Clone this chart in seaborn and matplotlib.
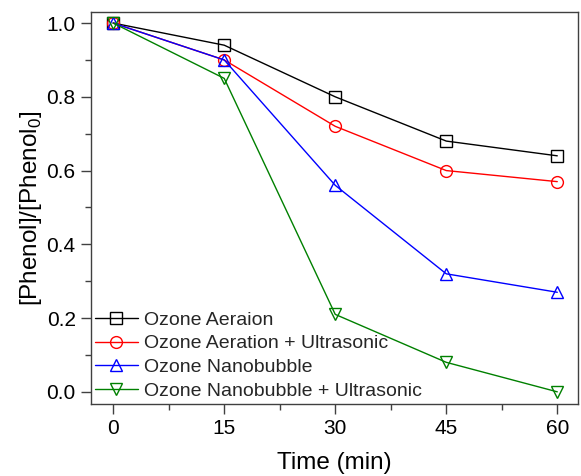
import matplotlib
matplotlib.use("Agg")
import matplotlib.pyplot as plt
import seaborn as sns
import pandas as pd
from matplotlib.ticker import MultipleLocator, AutoMinorLocator

time_min = [0, 15, 30, 45, 60]
series_names = ["Ozone Aeraion", "Ozone Aeration + Ultrasonic",
                "Ozone Nanobubble", "Ozone Nanobubble + Ultrasonic"]
aeration = [1.0, 0.94, 0.80, 0.68, 0.64]
aeration_us = [1.0, 0.90, 0.72, 0.60, 0.57]
nanobubble = [1.0, 0.90, 0.56, 0.32, 0.27]
nanobubble_us = [1.0, 0.85, 0.21, 0.08, 0.0]
values = [aeration, aeration_us, nanobubble, nanobubble_us]
colors = ["black", "red", "blue", "green"]
markers = ["s", "o", "^", "v"]

sns.set_theme(style="white")
plt.rcParams['font.family'] = ['Liberation Sans', 'DejaVu Sans']

fig = plt.figure(figsize=(5.81, 4.76), dpi=100)
ax = fig.add_axes([91/581, 1-404/476, (578-91)/581, (404-12)/476])

for name, vals, c, m in zip(series_names, values, colors, markers):
    df = pd.DataFrame({"t": time_min, "v": vals})
    sns.lineplot(data=df, x="t", y="v", ax=ax, color=c, marker=m,
                 markersize=8.5, markerfacecolor="none", markeredgecolor=c,
                 markeredgewidth=1.0, linewidth=1.0, label=name)

ax.set_xlim(-3, 62.8)
ax.set_ylim(-0.033, 1.03)
ax.xaxis.set_major_locator(MultipleLocator(15))
ax.xaxis.set_minor_locator(AutoMinorLocator(2))
ax.yaxis.set_major_locator(MultipleLocator(0.2))
ax.yaxis.set_minor_locator(AutoMinorLocator(2))
ax.yaxis.set_major_formatter(matplotlib.ticker.FormatStrFormatter('%.1f'))
ax.tick_params(axis='both', which='major', direction='out', length=7, width=1,
               color='#404040', labelsize=15, bottom=True, left=True, pad=4,
               labelcolor='black')
ax.tick_params(axis='both', which='minor', direction='out', length=4, width=1,
               color='#404040', bottom=True, left=True)
for s in ax.spines.values():
    s.set_color('#404040')
    s.set_linewidth(1.0)

ax.set_xlabel("Time (min)", fontsize=17.5, labelpad=10, color='black')
ax.set_ylabel("[Phenol]/[Phenol$_\\mathregular{0}$]", fontsize=17.5, labelpad=2,
              color='black')

ax.legend(loc="lower left", frameon=False, fontsize=14, handlelength=2.2,
          handletextpad=0.35, labelspacing=0.32, borderaxespad=0.0,
          borderpad=0.2)

fig.savefig("out.png", dpi=100)
